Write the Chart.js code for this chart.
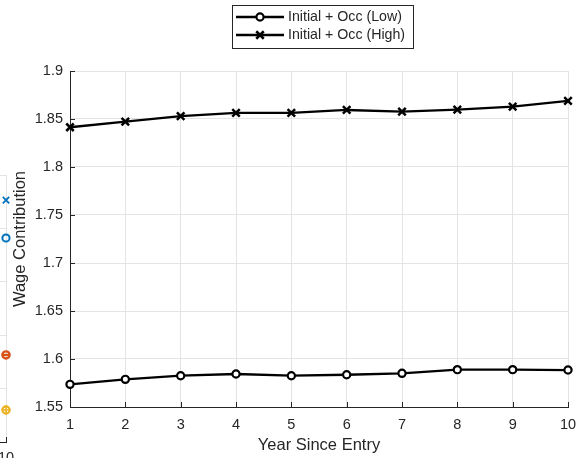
<!DOCTYPE html>
<html>
<head>
<meta charset="utf-8">
<script src="https://cdn.jsdelivr.net/npm/chart.js@4/dist/chart.umd.min.js"></script>
<style>
  html, body { margin: 0; padding: 0; background: #fff; overflow: hidden; width: 579px; height: 458px; }
  canvas { position: absolute; top: 0; }
  #side { left: -292px; }
  #main { left: 0; }
</style>
</head>
<body>
<canvas id="side" width="308" height="470"></canvas>
<canvas id="main" width="579" height="458"></canvas>
<script>
// Wage contribution by year since entry
const years = [1, 2, 3, 4, 5, 6, 7, 8, 9, 10];
const occLow = [1.5736, 1.5788, 1.5826, 1.5844, 1.5826, 1.5836, 1.5851, 1.5889, 1.5889, 1.5885];
const occHigh = [1.8414, 1.8472, 1.8531, 1.8563, 1.8563, 1.8594, 1.8576, 1.8597, 1.8628, 1.8688];
const seriesLabels = ['Initial + Occ (Low)', 'Initial + Occ (High)'];
const yTicks = [1.55, 1.6, 1.65, 1.7, 1.75, 1.8, 1.85, 1.9];
const yTickLabels = ['1.55', '1.6', '1.65', '1.7', '1.75', '1.8', '1.85', '1.9'];
const xTickLabels = ['1', '2', '3', '4', '5', '6', '7', '8', '9', '10'];

// Right edge of the neighbouring panel
const sideYear = [10];
const sideTicks = [0, 1, 2, 3, 4, 5];
const sideBlueCross = [4.53];
const sideBlueCircle = [3.82];
const sideOrange = [1.63];
const sideYellow = [0.6];

const AXIS = '#262626';
const GRID = '#e4e4e4';
const FONT = '"Liberation Sans", Arial, Helvetica, sans-serif';

const pts = (xs, ys) => xs.map((x, i) => ({ x, y: ys[i] }));

// keep tick labels from pushing the plot area inward
const fixX = (h) => (s) => { s.height = h; s.paddingLeft = 0; s.paddingRight = 0; };
const fixY = (w) => (s) => { s.width = w; s.paddingTop = 0; s.paddingBottom = 0; };

// MATLAB-like ticks pointing into the plot area
const inwardTicks = {
  id: 'inwardTicks',
  afterDatasetsDraw(chart, args, opts) {
    const { ctx, chartArea: a, scales } = chart;
    ctx.save();
    ctx.strokeStyle = AXIS;
    ctx.lineWidth = 1;
    const len = 5;
    scales.x.ticks.forEach(t => {
      const px = Math.round(scales.x.getPixelForValue(t.value)) + 0.5;
      ctx.beginPath(); ctx.moveTo(px, a.bottom); ctx.lineTo(px, a.bottom - len); ctx.stroke();
    });
    if (opts.yTicks) {
      scales.y.ticks.forEach(t => {
        const py = Math.round(scales.y.getPixelForValue(t.value)) + 0.5;
        ctx.beginPath(); ctx.moveTo(a.left, py); ctx.lineTo(a.left + len, py); ctx.stroke();
      });
    }
    ctx.restore();
  }
};

// Boxed legend with line + marker samples
const boxLegend = {
  id: 'boxLegend',
  afterDraw(chart, args, opts) {
    const { ctx } = chart;
    const b = opts.box;
    ctx.save();
    ctx.fillStyle = '#fff';
    ctx.fillRect(b.x, b.y, b.w, b.h);
    ctx.strokeStyle = AXIS;
    ctx.lineWidth = 1;
    ctx.strokeRect(b.x + 0.5, b.y + 0.5, b.w, b.h);
    chart.data.datasets.forEach((ds, i) => {
      const cy = opts.rows[i];
      ctx.strokeStyle = ds.borderColor;
      ctx.lineWidth = ds.borderWidth;
      ctx.beginPath(); ctx.moveTo(opts.lineX0, cy); ctx.lineTo(opts.lineX1, cy); ctx.stroke();
      ctx.fillStyle = ds.pointBackgroundColor;
      ctx.lineWidth = ds.pointBorderWidth;
      Chart.helpers.drawPoint(ctx, {
        pointStyle: ds.pointStyle, radius: ds.pointRadius, borderWidth: ds.pointBorderWidth, rotation: 0
      }, (opts.lineX0 + opts.lineX1) / 2, cy);
      ctx.fillStyle = AXIS;
      ctx.font = opts.font;
      ctx.textAlign = 'left';
      ctx.textBaseline = 'middle';
      ctx.fillText(ds.label, opts.textX, cy + 0.5);
    });
    ctx.restore();
  }
};

new Chart(document.getElementById('main'), {
  type: 'line',
  data: {
    datasets: [
      {
        label: seriesLabels[0],
        data: pts(years, occLow),
        borderColor: '#000', borderWidth: 2.3,
        pointStyle: 'circle', pointRadius: 3.6, pointBorderWidth: 2.2,
        pointBackgroundColor: '#fff', pointBorderColor: '#000',
        tension: 0, clip: false
      },
      {
        label: seriesLabels[1],
        data: pts(years, occHigh),
        borderColor: '#000', borderWidth: 2.3,
        pointStyle: 'crossRot', pointRadius: 5.3, pointBorderWidth: 2.5,
        pointBackgroundColor: '#000', pointBorderColor: '#000',
        tension: 0, clip: false
      }
    ]
  },
  options: {
    responsive: false,
    animation: false,
    devicePixelRatio: 1,
    layout: { padding: { top: 71, right: 11, bottom: 0, left: 0 } },
    plugins: {
      legend: { display: false },
      tooltip: { enabled: false },
      inwardTicks: { yTicks: true },
      boxLegend: {
        box: { x: 232, y: 5, w: 181, h: 43 },
        rows: [17, 35],
        lineX0: 236, lineX1: 284, textX: 288,
        font: '14.2px ' + FONT
      }
    },
    scales: {
      x: {
        type: 'linear', min: 1, max: 10,
        afterFit: fixX(51),
        afterBuildTicks: s => { s.ticks = years.map(v => ({ value: v })); },
        grid: { color: GRID, lineWidth: 1, drawTicks: false },
        border: { color: AXIS, width: 1 },
        ticks: {
          autoSkip: false, maxRotation: 0, padding: 9,
          color: AXIS, font: { family: FONT, size: 14.5 },
          callback: (v) => xTickLabels[years.indexOf(v)]
        },
        title: {
          display: true, text: 'Year Since Entry', color: AXIS,
          font: { family: FONT, size: 16.5 }, padding: { top: 0, bottom: 3 }
        }
      },
      y: {
        type: 'linear', min: 1.55, max: 1.9,
        afterFit: fixY(70),
        afterBuildTicks: s => { s.ticks = yTicks.map(v => ({ value: v })); },
        grid: { color: GRID, lineWidth: 1, drawTicks: false },
        border: { color: AXIS, width: 1 },
        ticks: {
          padding: 7, color: AXIS, font: { family: FONT, size: 14.5 },
          callback: (v) => yTickLabels[yTicks.indexOf(v)]
        },
        title: {
          display: true, text: 'Wage Contribution', color: AXIS,
          font: { family: FONT, size: 16.5 }, padding: { top: 11, bottom: 0 }
        }
      }
    }
  },
  plugins: [inwardTicks, boxLegend]
});

// Neighbouring panel (only its right edge falls inside the page)
const marker = (label, ys, color, style, r, bw) => ({
  label, data: pts(sideYear, ys), showLine: false,
  pointStyle: style, pointRadius: r, pointBorderWidth: bw,
  pointBorderColor: color, pointBackgroundColor: 'rgba(0,0,0,0)', clip: false
});

new Chart(document.getElementById('side'), {
  type: 'line',
  data: {
    datasets: [
      marker('a', sideBlueCross, '#0072BD', 'crossRot', 4.5, 1.8),
      marker('b', sideBlueCircle, '#0072BD', 'circle', 3.6, 2),
      marker('c', sideOrange, '#D95319', 'circle', 3.6, 2.4),
      marker('c2', sideOrange, '#D95319', 'line', 3.6, 2.4),
      marker('d', sideYellow, '#EDB120', 'circle', 3.6, 2.2),
      marker('d2', sideYellow, '#EDB120', 'cross', 4.5, 1.6)
    ]
  },
  options: {
    responsive: false,
    animation: false,
    devicePixelRatio: 1,
    layout: { padding: { top: 175, right: 10, bottom: 0, left: 0 } },
    plugins: { legend: { display: false }, tooltip: { enabled: false }, inwardTicks: { yTicks: false } },
    scales: {
      x: {
        type: 'linear', min: 0, max: 10,
        afterFit: fixX(28),
        afterBuildTicks: s => { s.ticks = sideYear.map(v => ({ value: v })); },
        grid: { color: GRID, drawTicks: false },
        border: { color: AXIS, width: 1 },
        ticks: { padding: 7, color: AXIS, font: { family: FONT, size: 14.5 } }
      },
      y: {
        type: 'linear', min: 0, max: 5,
        afterFit: fixY(30),
        afterBuildTicks: s => { s.ticks = sideTicks.map(v => ({ value: v })); },
        grid: { color: GRID, drawTicks: false },
        border: { display: false },
        ticks: { display: false }
      }
    }
  },
  plugins: [inwardTicks]
});
</script>
</body>
</html>
